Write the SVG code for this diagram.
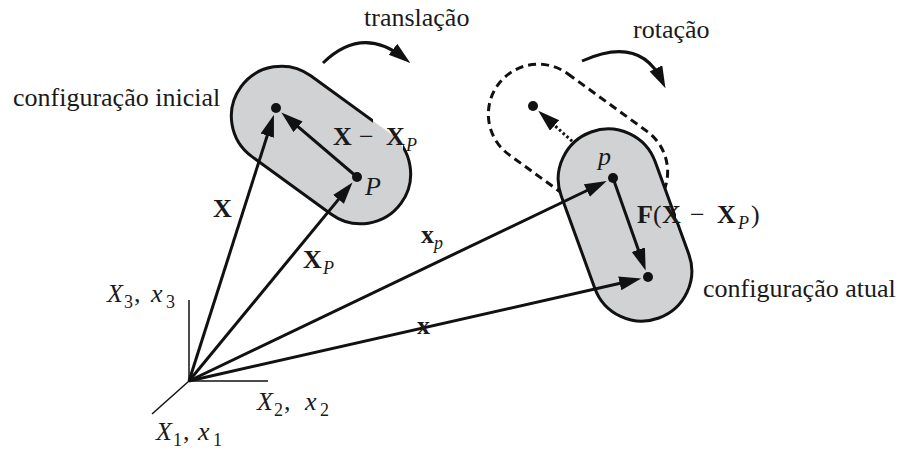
<svg xmlns="http://www.w3.org/2000/svg" width="906" height="457" viewBox="0 0 906 457">
<style>
text{font-family:"Liberation Serif","Times New Roman",serif;font-size:26px;fill:#1a1a1a}
.b{font-weight:bold}
.i{font-style:italic}
.s{font-size:18px}
.body{fill:#d1d2d4;stroke:none}
.outline{fill:none;stroke:#111;stroke-width:3}
.dash{fill:none;stroke:#111;stroke-width:3;stroke-dasharray:8 5}
.vec{fill:none;stroke:#111;stroke-width:3}
.axis{fill:none;stroke:#111;stroke-width:1.5}
.dot{fill:#111}
</style>
<defs>
<marker id="ah" markerUnits="userSpaceOnUse" markerWidth="24" markerHeight="16" refX="14" refY="7" orient="auto">
<path d="M0,0 L22,7 L0,14 Z" fill="#111"/>
</marker>
<mask id="m1" maskUnits="userSpaceOnUse" x="0" y="0" width="906" height="457">
<rect width="906" height="457" fill="white"/>
<rect x="373" y="119" width="30" height="35" fill="black"/>
</mask>
<mask id="m2" maskUnits="userSpaceOnUse" x="0" y="0" width="906" height="457">
<rect width="906" height="457" fill="white"/>
<rect x="676" y="205" width="18" height="17" fill="black"/>
</mask>
</defs>

<g id="axes">
<line class="axis" x1="189" y1="381" x2="189" y2="300"/>
<line class="axis" x1="189" y1="381" x2="268" y2="381"/>
<line class="axis" x1="189" y1="381" x2="152" y2="414"/>
<text y="302"><tspan class="i" x="107">X</tspan><tspan class="s" x="124" dy="6">3</tspan><tspan x="134" dy="-6">,</tspan><tspan class="i" x="151">x</tspan><tspan class="s" x="166" dy="6">3</tspan></text>
<text y="410"><tspan class="i" x="257">X</tspan><tspan class="s" x="274" dy="6">2</tspan><tspan x="284" dy="-6">,</tspan><tspan class="i" x="305">x</tspan><tspan class="s" x="320" dy="6">2</tspan></text>
<text y="440"><tspan class="i" x="156">X</tspan><tspan class="s" x="173" dy="6">1</tspan><tspan x="183" dy="-6">,</tspan><tspan class="i" x="198">x</tspan><tspan class="s" x="213" dy="6">1</tspan></text>
</g>

<g id="translated-config">
<rect class="dash" x="-99" y="-50" width="198" height="100" rx="50" transform="translate(578,143) rotate(36)"/>
<line class="vec" x1="613" y1="178" x2="544.2" y2="116.1" stroke-dasharray="2.5 2.5" marker-end="url(#ah)"/>
<circle class="dot" cx="533" cy="106" r="5"/>
</g>

<g id="current-config">
<rect class="body" x="-99" y="-50" width="198" height="100" rx="50" transform="translate(625,225) rotate(70)"/>
<g mask="url(#m2)">
<rect class="outline" x="-99" y="-50" width="198" height="100" rx="50" transform="translate(625,225) rotate(70)"/>
</g>
</g>

<g id="initial-config">
<rect class="body" x="-99" y="-50" width="198" height="100" rx="50" transform="translate(321,145) rotate(36)"/>
<g mask="url(#m1)">
<rect class="outline" x="-99" y="-50" width="198" height="100" rx="50" transform="translate(321,145) rotate(36)"/>
</g>
</g>

<g id="connectors">
<line class="vec" x1="189" y1="381" x2="271.5" y2="122.3" marker-end="url(#ah)"/>
<line class="vec" x1="189" y1="381" x2="347.4" y2="188.6" marker-end="url(#ah)"/>
<line class="vec" x1="189" y1="381" x2="599.5" y2="184.5" marker-end="url(#ah)"/>
<line class="vec" x1="189" y1="381" x2="633.4" y2="280.3" marker-end="url(#ah)"/>
<line class="vec" x1="357" y1="177" x2="287.4" y2="117.7" marker-end="url(#ah)"/>
<line class="vec" x1="613" y1="178" x2="643.0" y2="262.9" marker-end="url(#ah)"/>
<path class="vec" d="M323,63 Q362,25 404,58" marker-end="url(#ah)"/>
<path class="vec" d="M582,61 Q640,35 662,81" marker-end="url(#ah)"/>
</g>

<g id="points">
<circle class="dot" cx="276" cy="108" r="5"/>
<circle class="dot" cx="357" cy="177" r="5"/>
<circle class="dot" cx="613" cy="178" r="5"/>
<circle class="dot" cx="648" cy="277" r="5"/>
</g>

<g id="labels">
<text x="364" y="26">translação</text>
<text x="633" y="38">rotação</text>
<text x="13" y="106">configuração inicial</text>
<text x="703" y="297">configuração atual</text>
<text y="145"><tspan class="b" x="333">X</tspan><tspan x="359">−</tspan><tspan class="b" x="386">X</tspan><tspan class="i s" x="406" dy="6">P</tspan></text>
<text class="i" x="365" y="195">P</text>
<text class="b" x="213" y="217">X</text>
<text y="268"><tspan class="b" x="303">X</tspan><tspan class="i s" x="323" dy="6">P</tspan></text>
<text y="243"><tspan class="b" x="421">x</tspan><tspan class="i s" x="434" dy="6">p</tspan></text>
<text class="b" x="417" y="334">x</text>
<text class="i" x="598" y="165">p</text>
<text y="223"><tspan class="b" x="637">F</tspan><tspan x="653">(</tspan><tspan class="b" x="662">X</tspan><tspan x="690">−</tspan><tspan class="b" x="717">X</tspan><tspan class="i s" x="738" dy="6">P</tspan><tspan x="751" dy="-6">)</tspan></text>
</g>
</svg>
